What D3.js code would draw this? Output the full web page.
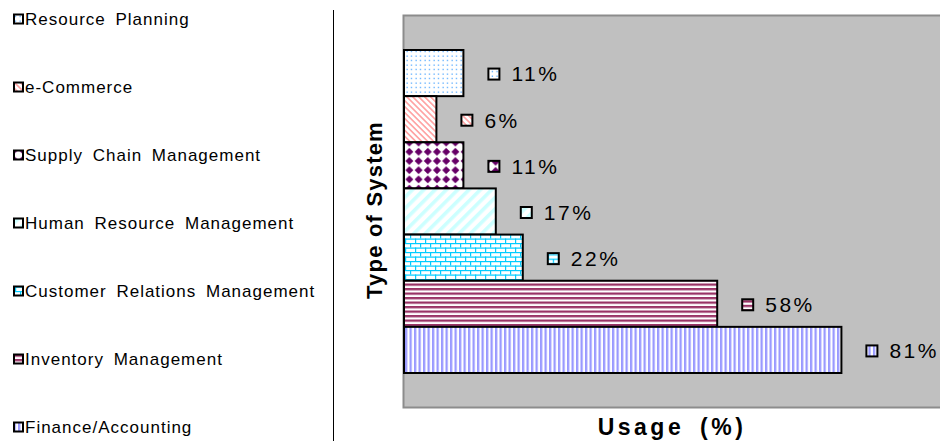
<!DOCTYPE html>
<html>
<head>
<meta charset="utf-8">
<script src="https://cdn.jsdelivr.net/npm/d3@7"></script>
<style>
  html, body { margin: 0; padding: 0; background: #fff; }
  svg { display: block; font-family: "Liberation Sans", Arial, sans-serif; }
</style>
</head>
<body>
<svg id="chart" width="940" height="441"></svg>
<script>
// Systems in use, listed top to bottom
const categories = [
  "Resource Planning",
  "e-Commerce",
  "Supply Chain Management",
  "Human Resource Management",
  "Customer Relations Management",
  "Inventory Management",
  "Finance/Accounting"
];
// Share of respondents using each system (%)
const usage = [11, 6, 11, 17, 22, 58, 81];
const valueLabels = ["11%", "6%", "11%", "17%", "22%", "58%", "81%"];

// Fill pattern used for each system
const patternKeys = ["dots", "diagLeft", "diamonds", "diagRight", "brick", "hstripe", "vstripe"];

const svg = d3.select("#chart");
const defs = svg.append("defs");

function pat(id, w, h, transform) {
  const p = defs.append("pattern")
    .attr("id", id).attr("patternUnits", "userSpaceOnUse")
    .attr("width", w).attr("height", h);
  if (transform) p.attr("patternTransform", transform);
  p.append("rect").attr("width", w).attr("height", h).attr("fill", "#fff");
  return p;
}
// small blue dots
let p = pat("dots", 4.5, 4.5);
p.append("rect").attr("x", 1.5).attr("y", 1.5).attr("width", 1.2).attr("height", 1.2).attr("fill", "#3399ff");
// thin salmon diagonals
p = pat("diagLeft", 4.2, 4.2, "rotate(-45)");
p.append("rect").attr("width", 1.6).attr("height", 4.2).attr("fill", "#ff9f9f");
// purple diamonds
p = pat("diamonds", 9.2, 9.2);
p.append("path").attr("d", "M4.6,0.6 L8.6,4.6 L4.6,8.6 L0.6,4.6 Z").attr("fill", "#660066");
// wide pale cyan diagonals
p = pat("diagRight", 8, 8, "rotate(45)");
p.append("rect").attr("width", 3.6).attr("height", 8).attr("fill", "#ccffff");
// cyan brick
p = pat("brick", 10, 9);
p.append("rect").attr("x", 0).attr("y", 0).attr("width", 10).attr("height", 1.2).attr("fill", "#00ccff");
p.append("rect").attr("x", 0).attr("y", 4.5).attr("width", 10).attr("height", 1.2).attr("fill", "#00ccff");
p.append("rect").attr("x", 0).attr("y", 0).attr("width", 1.2).attr("height", 4.5).attr("fill", "#00ccff");
p.append("rect").attr("x", 5).attr("y", 4.5).attr("width", 1.2).attr("height", 4.5).attr("fill", "#00ccff");
// maroon horizontal stripes
p = pat("hstripe", 4.5, 4.5);
p.append("rect").attr("width", 4.5).attr("height", 2.3).attr("fill", "#993366");
// lavender vertical stripes
p = pat("vstripe", 4.5, 4.5);
p.append("rect").attr("width", 2.3).attr("height", 4.5).attr("fill", "#9999ff");

// ---- Legend column ----
const legendY = d3.scalePoint().domain(categories).range([19, 427]);
const legend = svg.append("g");
const legendRows = legend.selectAll("g").data(categories).join("g")
  .attr("transform", d => `translate(0,${legendY(d)})`);
legendRows.append("rect")
  .attr("x", 14).attr("y", -4.5).attr("width", 9).attr("height", 9)
  .attr("fill", (d, i) => `url(#${patternKeys[i]})`)
  .attr("stroke", "#000").attr("stroke-width", 2);
legendRows.append("text")
  .attr("x", 25).attr("dy", "0.35em")
  .attr("font-size", 17).attr("letter-spacing", 1).attr("word-spacing", 4)
  .attr("fill", "#000")
  .text(d => d);

// divider
svg.append("line")
  .attr("x1", 333.5).attr("x2", 333.5).attr("y1", 10).attr("y2", 441)
  .attr("stroke", "#000").attr("stroke-width", 1);

// ---- Plot ----
const x = d3.scaleLinear().domain([0, 100]).range([404, 944]);
const y = d3.scaleBand().domain(categories).range([50, 373]).padding(0);

svg.append("rect")
  .attr("x", 403.5).attr("y", 15.5).attr("width", 560).attr("height", 392)
  .attr("fill", "#c0c0c0").attr("stroke", "#8c8c8c").attr("stroke-width", 2);

svg.append("g").selectAll("rect").data(categories).join("rect")
  .attr("x", x(0))
  .attr("y", d => y(d))
  .attr("width", (d, i) => x(usage[i]) - x(0))
  .attr("height", y.bandwidth())
  .attr("fill", (d, i) => `url(#${patternKeys[i]})`)
  .attr("stroke", "#000").attr("stroke-width", 2);

// value labels with legend key
const labels = svg.append("g").selectAll("g").data(categories).join("g")
  .attr("transform", (d, i) => `translate(${x(usage[i])},${y(d) + y.bandwidth() / 2 + 1})`);
labels.append("rect")
  .attr("x", 25).attr("y", -5.5).attr("width", 11).attr("height", 11)
  .attr("fill", (d, i) => `url(#${patternKeys[i]})`)
  .attr("stroke", "#000").attr("stroke-width", 2);
labels.append("text")
  .attr("x", 48).attr("dy", "0.35em")
  .attr("font-size", 21).attr("letter-spacing", 2.5)
  .attr("fill", "#000")
  .text((d, i) => valueLabels[i]);

// axis titles
svg.append("text")
  .attr("transform", "translate(382,210) rotate(-90)")
  .attr("text-anchor", "middle")
  .attr("font-size", 22).attr("font-weight", "bold").attr("letter-spacing", 1.2)
  .text("Type of System");

svg.append("text")
  .attr("x", 672).attr("y", 435)
  .attr("text-anchor", "middle")
  .attr("font-size", 23).attr("font-weight", "bold").attr("letter-spacing", 3.5).attr("word-spacing", 6)
  .text("Usage (%)");
</script>
</body>
</html>
